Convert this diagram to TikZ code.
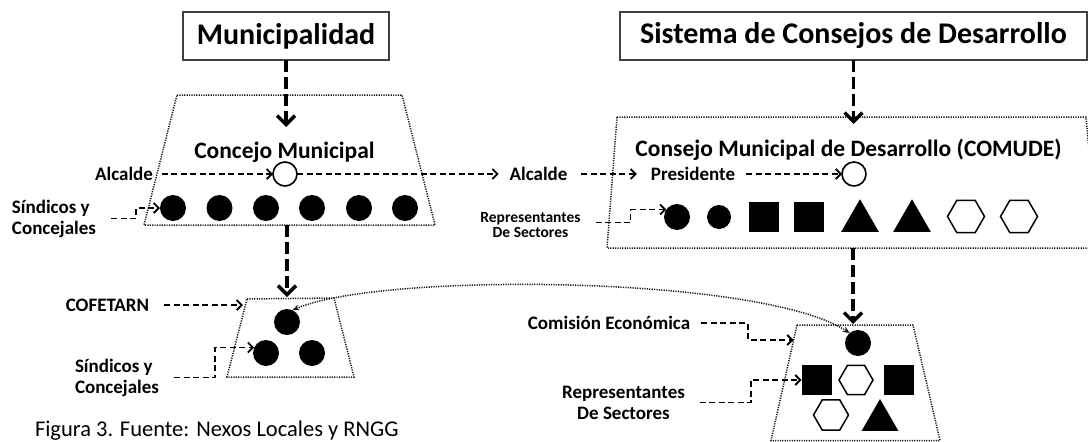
\documentclass[tikz,border=0pt]{standalone}
\usepackage{fontspec}
\setmainfont{Carlito}
\usetikzlibrary{arrows.meta,shapes.geometric,calc}
\begin{document}
\begin{tikzpicture}[x=1pt,y=-1pt,
  every node/.style={inner sep=0pt,outer sep=0pt},
  titlebox/.style={draw=black!75,line width=2pt,minimum height=48pt,font=\fontsize{30}{36}\selectfont\bfseries},
  sub/.style={font=\fontsize{23.5}{28}\selectfont\bfseries},
  lbl/.style={font=\fontsize{19}{23}\selectfont\bfseries},
  lbltwo/.style={font=\fontsize{19}{21}\selectfont\bfseries},
  smalllbl/.style={font=\fontsize{15.5}{15}\selectfont\bfseries},
  capt/.style={font=\fontsize{22.5}{26}\selectfont},
  dot/.style={circle,fill=black,minimum size=26pt},
  odot/.style={circle,draw=black,fill=white,line width=1.6pt,minimum size=24pt},
  sq/.style={rectangle,fill=black,minimum size=30pt},
  tri/.style={regular polygon,regular polygon sides=3,fill=black,minimum size=43.5pt},
  hex/.style={regular polygon,regular polygon sides=6,draw=black,fill=white,line width=1.5pt,minimum size=37pt},
  dotline/.style={line width=1.5pt,dash pattern=on 1.2pt off 1.2pt,draw=black!90},
  thinarr/.style={line width=1.8pt,dash pattern=on 6pt off 3.5pt,-{Straight Barb[length=5pt,width=10pt]}},
  thickarr/.style={line width=3.5pt,dash pattern=on 12pt off 5pt,-{Straight Barb[length=9pt,width=18pt]}},
  curvearr/.style={dotline,{Stealth[length=7pt,width=6pt]}-{Stealth[length=7pt,width=6pt]}}
]
\useasboundingbox (0,0) rectangle (1088,442);
\begin{scope}
\clip (0,0) rectangle (1088,442);

% ---- trapezoids / frames
\coordinate (t1a) at (177,95);  \coordinate (t1b) at (402,95);
\coordinate (t1c) at (435,225); \coordinate (t1d) at (144,225);
\draw[dotline] (t1a) -- (t1b) -- (t1c) -- (t1d) -- cycle;

\coordinate (t2a) at (247,299); \coordinate (t2b) at (334,298);
\coordinate (t2c) at (354,377); \coordinate (t2d) at (227,377);
\draw[dotline] (t2a) -- (t2b) -- (t2c) -- (t2d) -- cycle;

\coordinate (t3a) at (617,117);  \coordinate (t3b) at (1086,117);
\coordinate (t3c) at (1098,248); \coordinate (t3d) at (607,248);
\draw[dotline] (t3a) -- (t3b) -- (t3c) -- (t3d) -- cycle;

\coordinate (t4a) at (797,325); \coordinate (t4b) at (913,325);
\coordinate (t4c) at (940,440.5); \coordinate (t4d) at (771,440.5);
\draw[dotline] (t4a) -- (t4b) -- (t4c) -- (t4d) -- cycle;
\end{scope}

% ---- title boxes
\node[titlebox,minimum width=206pt] (muni) at (286,36) {Municipalidad};
\node[titlebox,minimum width=467pt] (sist) at (853.5,36) {Sistema de Consejos de Desarrollo};

% ---- sub titles
\node[sub] (cmt) at (284.5,152) {Concejo Municipal};
\node[sub] (cdt) at (848.5,150) {Consejo Municipal de Desarrollo (COMUDE)};

% ---- left council
\foreach \i/\x in {1/173,2/219.5,3/266,4/312,5/359,6/405}
  \node[dot] (c\i) at (\x,208) {};
\node[odot] (p1) at (285,174) {};
\node[lbl] (alc1) at (124,174) {Alcalde};
\node[lbltwo,align=left,anchor=west] (sind1) at (12,218.5) {Síndicos y\\Concejales};

% ---- COMUDE
\node[lbl] (alc2) at (538.5,174) {Alcalde};
\node[lbl] (presid) at (693,174) {Presidente};
\node[odot] (p2) at (854,174) {};
\node[smalllbl,align=center] (rep1) at (530.5,225.5) {Representantes\\De Sectores};
\node[dot] (r1) at (677,217) {};
\node[dot,minimum size=24pt] (r2) at (719,217) {};
\node[sq] (r3) at (764,217) {};
\node[sq] (r4) at (809,217) {};
\node[tri] (r5) at (860,221) {};
\node[tri] (r6) at (912,221) {};
\node[hex] (r7) at (966,216.5) {};
\node[hex] (r8) at (1019,216.5) {};

% ---- COFETARN
\node[dot] (lc0) at (287,322) {};
\node[dot] (lc1) at (266,353) {};
\node[dot] (lc2) at (312,353) {};
\node[lbl] (cofe) at (107.5,305) {COFETARN};
\node[lbltwo,align=left,anchor=west] (sind2) at (75,377.5) {Síndicos y\\Concejales};

% ---- Comision economica
\node[dot] (cm0) at (858,343) {};
\node[sq] (s1) at (816.5,380) {};
\node[hex,minimum size=34pt] (h1) at (856,380) {};
\node[sq] (s2) at (899,380) {};
\node[hex,minimum size=35pt] (h2) at (831,415) {};
\node[tri,minimum size=42.6pt] (tr) at (880,420.3) {};
\node[lbl] (comi) at (609,323) {Comisión Económica};
\node[lbltwo,align=center] (rep2) at (623.5,402.5) {Representantes\\De Sectores};

% ---- caption
\node[capt,anchor=base west] (cap) at (35,436) {Figura 3. Fuente: Nexos Locales y RNGG};

% ---- coordinates for free ends
\coordinate (cmTip) at (286,127);
\coordinate (t1bot) at (287,225);
\coordinate (t2top) at (287,297);
\coordinate (sdTip) at (853.5,124);
\coordinate (t3bot) at (853,248);
\coordinate (t4top) at (853,324);
\coordinate (cofeTip) at (243,305);
\coordinate (comiTip) at (793.5,340);

% ---- thick connectors
\draw[thickarr] (muni.south) -- (cmTip);
\draw[thickarr] (t1bot) -- (t2top);
\draw[thickarr] (sist.south) -- (sdTip);
\draw[thickarr] (t3bot) -- (t4top);

% ---- thin connectors
\draw[thinarr] ([xshift=9pt]alc1.east) -- (p1.west);
\draw[thinarr] (p1.east) -- ([xshift=-11pt]alc2.west);
\draw[thinarr] ([xshift=14pt]alc2.east) -- ([xshift=-14pt]presid.west);
\draw[thinarr] ([xshift=11pt]presid.east) -- (p2.west);
\draw[thinarr] ([xshift=15pt]sind1.east) -- ++(25,0) |- (c1.west);
\draw[thinarr] ([xshift=15pt,yshift=3pt]rep1.east) -- ++(35,0) |- (r1.145);
\draw[thinarr] ([xshift=15pt]cofe.east) -- (cofeTip);
\draw[thinarr] ([xshift=15pt]sind2.east) -- ++(41,0) |- (lc1.155);
\draw[thinarr] ([xshift=11pt]comi.east) -- ++(47,0) |- (comiTip);
\draw[thinarr] ([xshift=15pt]rep2.east) -- ++(51,0) |- (s1.west);

% ---- curved link
\draw[curvearr] (lc0.65) .. controls (380,272) and (760,275) .. (cm0.130);
\end{tikzpicture}
\end{document}
